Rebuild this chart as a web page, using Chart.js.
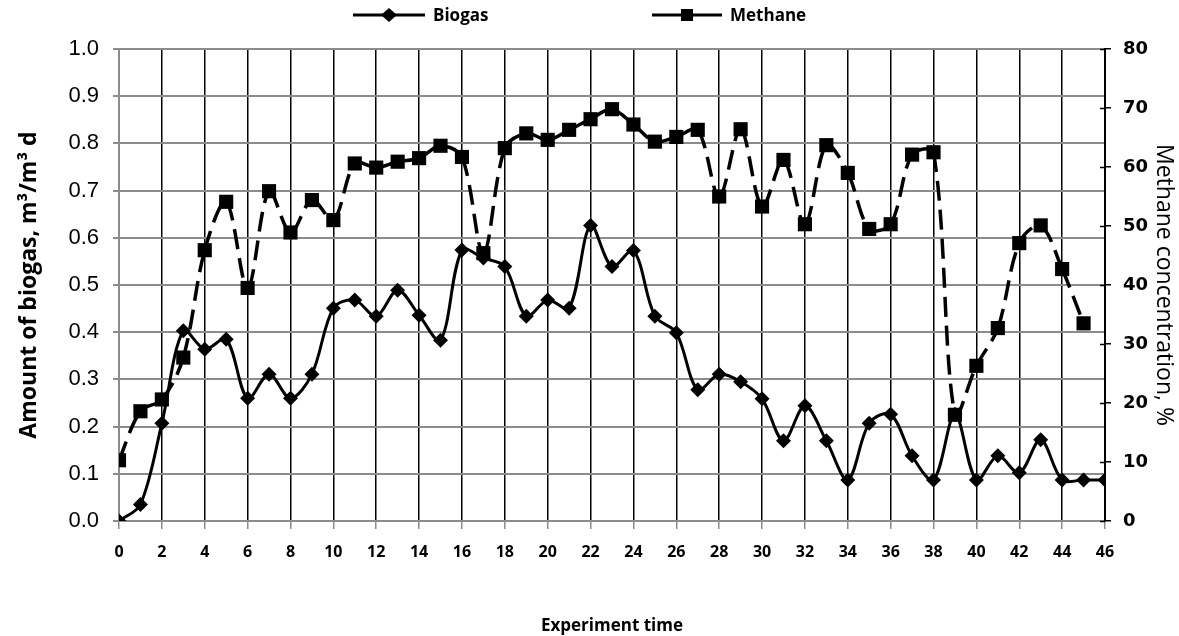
<!DOCTYPE html>
<html>
<head>
<meta charset="utf-8">
<script src="https://cdn.jsdelivr.net/npm/chart.js@4"></script>
<style>
  body { margin: 0; background: #fff; }
  #wrap { width: 1179px; height: 636px; }
</style>
</head>
<body>
<div id="wrap"><canvas id="graph"></canvas></div>
<script>
// Données
const days = [0, 1, 2, 3, 4, 5, 6, 7, 8, 9, 10, 11, 12, 13, 14, 15, 16, 17, 18, 19, 20, 21, 22, 23,
  24, 25, 26, 27, 28, 29, 30, 31, 32, 33, 34, 35, 36, 37, 38, 39, 40, 41, 42, 43, 44, 45, 46];

// Biogaz, m3/m3 d (axe de gauche)
const biogas = [0, 0.035, 0.207, 0.403, 0.364, 0.385, 0.26, 0.311, 0.26, 0.311, 0.451, 0.468,
  0.434, 0.489, 0.436, 0.383, 0.574, 0.557, 0.539, 0.434, 0.468, 0.451, 0.626, 0.539, 0.573,
  0.434, 0.399, 0.278, 0.311, 0.295, 0.259, 0.17, 0.244, 0.17, 0.087, 0.207, 0.226, 0.138,
  0.087, 0.226, 0.087, 0.138, 0.102, 0.172, 0.087, 0.087, 0.087];

// Méthane, % (axe de droite) - pas de valeur au jour 46
const methane = [10.3, 18.6, 20.6, 27.7, 45.9, 54.1, 39.5, 55.9, 48.9, 54.4, 51.0, 60.6, 59.9,
  60.9, 61.5, 63.6, 61.7, 45.4, 63.2, 65.7, 64.6, 66.3, 68.1, 69.8, 67.2, 64.3, 65.1, 66.3,
  55.0, 66.4, 53.3, 61.2, 50.3, 63.7, 59.0, 49.5, 50.3, 62.1, 62.5, 18.0, 26.3, 32.7, 47.1,
  50.1, 42.7, 33.5];

const seriesNames = ['Biogas', 'Methane'];
const xTitle = 'Experiment time';
const yTitle = 'Amount of biogas, m\u00b3/m\u00b3 d';
const y1Title = 'Methane concentration, %';

const toPoints = values => values.map((v, i) => ({ x: days[i], y: v }));

// Légende dessinée à la main (trait + marqueur, comme dans Excel)
const legendPlugin = {
  id: 'excelLegend',
  afterDraw(chart) {
    const ctx = chart.ctx;
    const y = 15;
    const items = [
      { x1: 353, x2: 425, style: 'diamond', text: seriesNames[0] },
      { x1: 652, x2: 722, style: 'square', text: seriesNames[1] }
    ];
    ctx.save();
    items.forEach(it => {
      ctx.strokeStyle = '#000';
      ctx.fillStyle = '#000';
      ctx.lineWidth = 3;
      ctx.beginPath();
      ctx.moveTo(it.x1, y);
      ctx.lineTo(it.x2, y);
      ctx.stroke();
      const cx = (it.x1 + it.x2) / 2;
      ctx.beginPath();
      if (it.style === 'diamond') {
        ctx.moveTo(cx - 8, y);
        ctx.lineTo(cx, y - 7);
        ctx.lineTo(cx + 8, y);
        ctx.lineTo(cx, y + 7);
        ctx.closePath();
      } else {
        ctx.rect(cx - 6, y - 6, 12, 12);
      }
      ctx.fill();
      ctx.font = 'bold 17px "Open Sans"';
      ctx.textBaseline = 'middle';
      ctx.textAlign = 'left';
      ctx.fillText(it.text, it.x2 + 8, y + 1);
    });
    ctx.restore();
  }
};

// Petits traits vers l'intérieur sur l'axe de droite
const innerTicksPlugin = {
  id: 'innerTicks',
  afterDraw(chart) {
    const s = chart.scales.y1;
    const ctx = chart.ctx;
    ctx.save();
    ctx.strokeStyle = '#000';
    ctx.lineWidth = 1.5;
    s.ticks.forEach(t => {
      const py = Math.round(s.getPixelForValue(t.value)) + 0.5;
      ctx.beginPath();
      ctx.moveTo(s.left - 5, py);
      ctx.lineTo(s.left, py);
      ctx.stroke();
    });
    ctx.restore();
  }
};

const ctx = document.getElementById('graph').getContext('2d');
new Chart(ctx, {
  type: 'line',
  data: {
    datasets: [
      {
        label: seriesNames[0],
        data: toPoints(biogas),
        yAxisID: 'y',
        borderColor: '#000',
        backgroundColor: '#000',
        borderWidth: 3,
        tension: 0.33,
        pointStyle: 'rectRot',
        pointRadius: 7.5,
        pointHoverRadius: 7.5,
        pointBorderWidth: 0
      },
      {
        label: seriesNames[1],
        data: toPoints(methane),
        yAxisID: 'y1',
        borderColor: '#000',
        backgroundColor: '#000',
        borderWidth: 3.5,
        borderDash: [20, 9],
        tension: 0.33,
        pointStyle: 'rect',
        pointRadius: 10,
        pointHoverRadius: 10,
        pointBorderWidth: 0,
        // le pointillé repart à chaque segment (comme Excel)
        segment: {
          borderDashOffset: c => (c.p0DataIndex % 2 ? 0.01 : 0)
        }
      }
    ]
  },
  options: {
    responsive: true,
    maintainAspectRatio: false,
    animation: false,
    layout: { padding: { top: 49, left: 0, right: 0, bottom: 0 } },
    plugins: {
      legend: { display: false },
      tooltip: { enabled: false }
    },
    scales: {
      x: {
        type: 'linear',
        min: 0,
        max: 46,
        afterFit: s => { s.height = 115; },
        ticks: {
          stepSize: 2,
          padding: 14,
          color: '#000',
          font: { family: '"Open Sans"', size: 16, weight: 'bold' }
        },
        grid: { color: '#000', lineWidth: 1.5, tickColor: '#8c8c8c', tickLength: 8 },
        border: { color: '#8c8c8c', width: 2 },
        title: {
          display: true,
          text: xTitle,
          color: '#000',
          padding: { top: 0, bottom: 0 },
          font: { family: '"Open Sans"', size: 17, weight: 'bold' }
        }
      },
      y: {
        position: 'left',
        min: 0,
        max: 1,
        afterFit: s => { s.width = 119; },
        ticks: {
          stepSize: 0.1,
          padding: 14,
          color: '#000',
          font: { family: '"Liberation Sans"', size: 22 },
          callback: v => v.toFixed(1)
        },
        grid: { color: '#8c8c8c', lineWidth: 2, tickLength: 6 },
        border: { color: '#8c8c8c', width: 2 },
        title: {
          display: true,
          text: yTitle,
          color: '#000',
          padding: { top: 16, bottom: 0 },
          font: { family: '"Open Sans"', size: 23, weight: 'bold' }
        }
      },
      y1: {
        position: 'right',
        min: 0,
        max: 80,
        afterFit: s => { s.width = 74; },
        ticks: {
          stepSize: 10,
          padding: 12,
          color: '#000',
          font: { family: '"DejaVu Sans"', size: 18, weight: 'bold' }
        },
        grid: { drawOnChartArea: false, color: '#000', lineWidth: 1.5, tickLength: 6 },
        border: { color: '#000', width: 2 },
        title: {
          display: true,
          text: y1Title,
          color: '#000',
          padding: { top: 2, bottom: 0 },
          font: { family: '"Open Sans"', size: 23 }
        }
      }
    }
  },
  plugins: [legendPlugin, innerTicksPlugin]
});
</script>
</body>
</html>
